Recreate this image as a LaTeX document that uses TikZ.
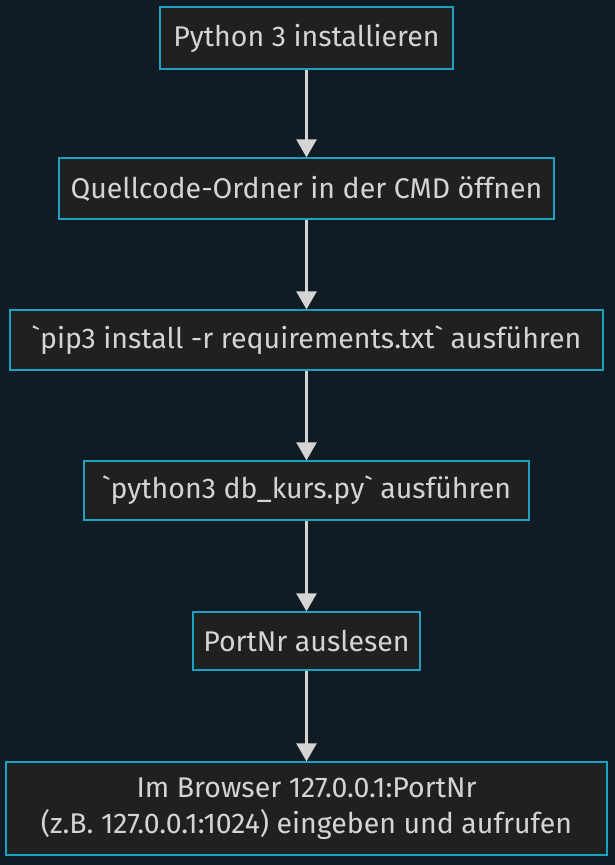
\documentclass[tikz,border=0pt]{standalone}
\usepackage{fontspec}
\setmainfont{Fira Sans}
\usetikzlibrary{arrows.meta}
\definecolor{bgnavy}{HTML}{111B24}
\definecolor{boxfill}{HTML}{1E2022}
\definecolor{boxline}{HTML}{1BA2C0}
\definecolor{txtgray}{HTML}{D4D4D4}
\tikzstyle{stepbox}=[rectangle,draw=boxline,fill=boxfill,line width=1.3pt,text=txtgray,
  font=\fontsize{28.5pt}{36pt}\selectfont,align=center,inner sep=0pt]
\tikzstyle{flow}=[draw=txtgray,line width=2.6pt,-{Triangle[width=20pt,length=18pt]}]

\begin{document}
\begin{tikzpicture}[x=1pt,y=-1pt]
  \fill[bgnavy] (0,0) rectangle (615,865);
  \useasboundingbox (0,0) rectangle (615,865);

  \node[stepbox, minimum width=293pt, minimum height=62pt] (1 schritt) at (306.5, 38)
    {Python 3 installieren};
  \node[stepbox, minimum width=495pt, minimum height=61pt] (2 schritt) at (306.5, 188.5)
    {Quellcode-Ordner in der CMD öffnen};
  \node[stepbox, minimum width=593pt, minimum height=60pt] (3 schritt) at (306.5, 340)
    {\textasciigrave pip3 install -r requirements.txt\textasciigrave{} ausführen};
  \node[stepbox, minimum width=445pt, minimum height=59pt] (4 schritt) at (306.5, 490.5)
    {\textasciigrave python3 db\_kurs.py\textasciigrave{} ausführen};
  \node[stepbox, minimum width=227pt, minimum height=58pt] (5 schritt) at (306.5, 641)
    {PortNr auslesen};
  \node[stepbox, minimum width=601pt, minimum height=93pt] (6 schritt) at (306.5, 808.5)
    {Im Browser 127.0.0.1:PortNr\\(z.B. 127.0.0.1:1024) eingeben und aufrufen};

  \foreach \x in {1,...,5} {
    \pgfmathtruncatemacro{\xplusone}{\x + 1};
    \draw[flow] (\x \space schritt) -- (\xplusone \space schritt);
  }
\end{tikzpicture}
\end{document}
